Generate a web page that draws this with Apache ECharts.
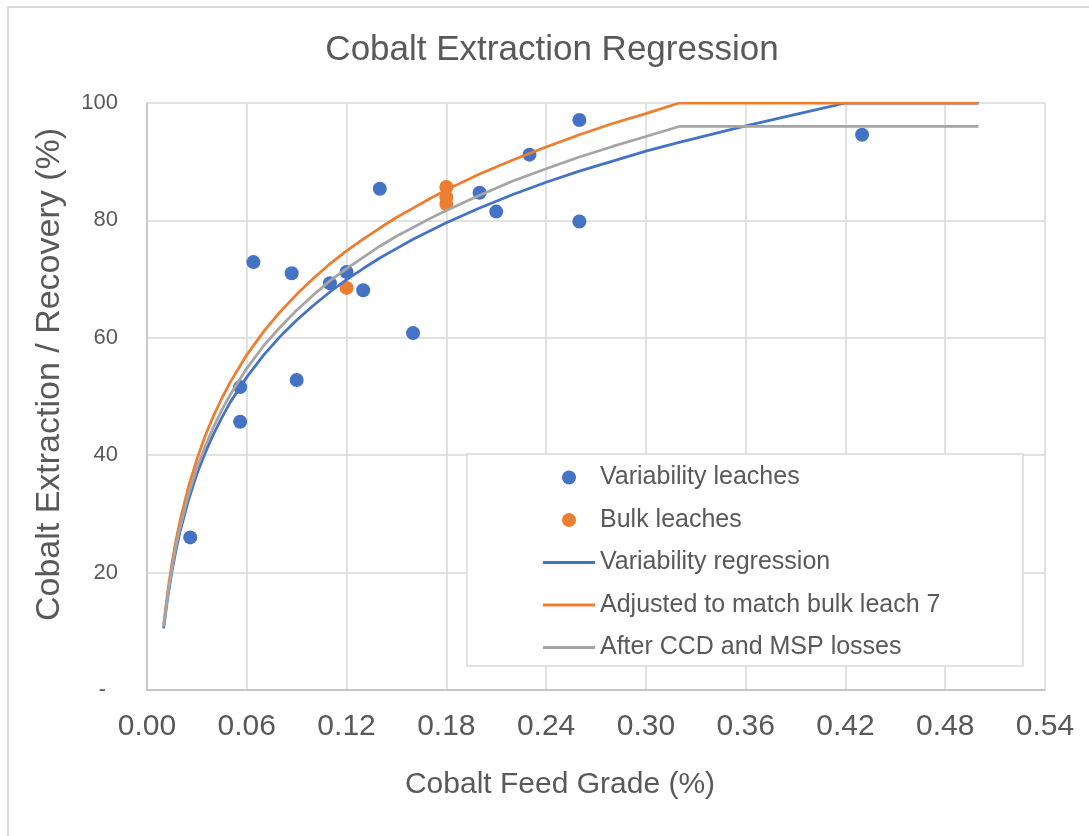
<!DOCTYPE html>
<html>
<head>
<meta charset="utf-8">
<script src="https://cdn.jsdelivr.net/npm/echarts@6/dist/echarts.min.js"></script>
<style>
html,body{margin:0;padding:0;background:#fff;}
#chart{width:1089px;height:836px;}
</style>
</head>
<body>
<div id="chart"></div>
<script>
// Scatter data
var variabilityX = [0.026, 0.056, 0.056, 0.064, 0.087, 0.090, 0.110, 0.120, 0.130, 0.140, 0.160, 0.200, 0.210, 0.230, 0.260, 0.260, 0.430];
var variabilityY = [26.0, 45.7, 51.6, 72.9, 71.0, 52.8, 69.3, 71.2, 68.1, 85.4, 60.8, 84.7, 81.5, 91.2, 97.1, 79.8, 94.6];
var bulkX = [0.120, 0.180, 0.180, 0.180];
var bulkY = [68.5, 85.7, 84.0, 82.8];

// Curve points
var curveX = [0.010, 0.0125, 0.015, 0.0175, 0.020, 0.025, 0.030, 0.035, 0.040, 0.045, 0.050, 0.060, 0.070, 0.080, 0.090, 0.100, 0.110, 0.120, 0.130, 0.140, 0.150, 0.160, 0.170, 0.180, 0.200, 0.220, 0.240, 0.260, 0.280, 0.300, 0.320, 0.360, 0.400, 0.420, 0.500];
var regressionY = [10.5, 15.8, 20.2, 23.9, 27.1, 32.4, 36.8, 40.4, 43.6, 46.4, 49.0, 53.3, 57.0, 60.2, 63.0, 65.5, 67.8, 69.9, 71.8, 73.6, 75.2, 76.8, 78.2, 79.6, 82.1, 84.4, 86.5, 88.4, 90.1, 91.8, 93.3, 96.1, 98.7, 100, 100];
var adjustedY = [11.2, 16.9, 21.6, 25.6, 29.0, 34.7, 39.3, 43.3, 46.7, 49.7, 52.4, 57.1, 61.0, 64.4, 67.4, 70.1, 72.6, 74.8, 76.8, 78.7, 80.5, 82.1, 83.7, 85.2, 87.9, 90.3, 92.5, 94.6, 96.5, 98.2, 100, 100, 100, 100, 100];
var afterLossY = [10.8, 16.2, 20.7, 24.6, 27.8, 33.3, 37.8, 41.5, 44.8, 47.7, 50.3, 54.8, 58.6, 61.8, 64.7, 67.3, 69.7, 71.8, 73.7, 75.6, 77.3, 78.8, 80.3, 81.7, 84.3, 86.7, 88.8, 90.8, 92.6, 94.3, 96.0, 96.0, 96.0, 96.0, 96.0];

var xTicks = ['0.00','0.06','0.12','0.18','0.24','0.30','0.36','0.42','0.48','0.54'];
var yTicks = ['-','20','40','60','80','100'];

function pairs(xs, ys){ return xs.map(function(x,i){ return [x, ys[i]]; }); }

var FONT = 'Liberation Sans, Arial, sans-serif';
var TXT = '#595959';
var LINE_ICON = 'path://M0,0 L52,0 L52,3 L0,3 Z';

var chart = echarts.init(document.getElementById('chart'));
chart.setOption({
  animation: false,
  backgroundColor: '#fff',
  title: {
    text: 'Cobalt Extraction Regression',
    left: 552, textAlign: 'center', top: 33, padding: 0,
    textStyle: { fontFamily: FONT, fontSize: 35, fontWeight: 'normal', color: TXT }
  },
  grid: { left: 147, right: 44, top: 103, bottom: 146, containLabel: false },
  xAxis: {
    type: 'value', min: 0, max: 0.54, interval: 0.06,
    name: 'Cobalt Feed Grade (%)', nameLocation: 'middle', nameGap: 80,
    nameTextStyle: { fontFamily: FONT, fontSize: 30, color: TXT, padding: [0, 72, 0, 0] },
    axisLine: { show: true, lineStyle: { color: '#bfbfbf', width: 1.5 } },
    axisTick: { show: false },
    splitLine: { show: true, lineStyle: { color: '#d9d9d9', width: 1.5 } },
    axisLabel: {
      fontFamily: FONT, fontSize: 30, color: TXT, margin: 22,
      formatter: function(v){ var i = Math.round(v/0.06); return xTicks[i] !== undefined ? xTicks[i] : v.toFixed(2); }
    }
  },
  yAxis: {
    type: 'value', min: 0, max: 100, interval: 20,
    name: 'Cobalt Extraction / Recovery (%)', nameLocation: 'middle', nameGap: 80,
    nameTextStyle: { fontFamily: FONT, fontSize: 34, color: TXT, padding: [0, 0, 0, 44] },
    axisLine: { show: true, lineStyle: { color: '#bfbfbf', width: 1.5 } },
    axisTick: { show: false },
    splitLine: { show: true, lineStyle: { color: '#d9d9d9', width: 1.5 } },
    axisLabel: {
      fontFamily: FONT, fontSize: 22, color: TXT, margin: 29,
      formatter: function(v){ var i = Math.round(v/20); return i === 0 ? '{z|' + yTicks[0] + '}' : yTicks[i]; },
      rich: { z: { fontFamily: FONT, fontSize: 22, color: TXT, padding: [0, 12, 0, 0] } }
    }
  },
  legend: {
    orient: 'vertical', left: 543, top: 465, padding: 0,
    itemWidth: 52, itemHeight: 14, itemGap: 17.5, z: 20,
    textStyle: { fontFamily: FONT, fontSize: 25, color: TXT, lineHeight: 25 },
    data: [
      { name: 'Variability leaches', icon: 'circle', itemStyle: { color: '#4472C4', opacity: 1 } },
      { name: 'Bulk leaches', icon: 'circle', itemStyle: { color: '#ED7D31', opacity: 1 } },
      { name: 'Variability regression', icon: LINE_ICON, itemStyle: { color: '#4472C4' } },
      { name: 'Adjusted to match bulk leach 7', icon: LINE_ICON, itemStyle: { color: '#ED7D31' } },
      { name: 'After CCD and MSP losses', icon: LINE_ICON, itemStyle: { color: '#A5A5A5' } }
    ]
  },
  graphic: [
    { type: 'rect', z: 1, silent: true, shape: { x: 8, y: 7, width: 1200, height: 1000 },
      style: { fill: 'none', stroke: '#d9d9d9', lineWidth: 2 } },
    { type: 'rect', z: 10, silent: true, shape: { x: 467, y: 454, width: 556, height: 212 },
      style: { fill: '#ffffff', stroke: '#d9d9d9', lineWidth: 1.5 } }
  ],
  series: [
    { name: 'Variability leaches', type: 'scatter', symbol: 'circle', symbolSize: 14,
      itemStyle: { color: '#4472C4', opacity: 1 }, data: pairs(variabilityX, variabilityY) },
    { name: 'Bulk leaches', type: 'scatter', symbol: 'circle', symbolSize: 14,
      itemStyle: { color: '#ED7D31', opacity: 1 }, data: pairs(bulkX, bulkY) },
    { name: 'Variability regression', type: 'line', showSymbol: false, symbol: 'none', smooth: false,
      lineStyle: { color: '#4472C4', width: 2.75 }, itemStyle: { color: '#4472C4' },
      data: pairs(curveX, regressionY) },
    { name: 'Adjusted to match bulk leach 7', type: 'line', showSymbol: false, symbol: 'none', smooth: false,
      lineStyle: { color: '#ED7D31', width: 2.75 }, itemStyle: { color: '#ED7D31' },
      data: pairs(curveX, adjustedY) },
    { name: 'After CCD and MSP losses', type: 'line', showSymbol: false, symbol: 'none', smooth: false,
      lineStyle: { color: '#A5A5A5', width: 2.75 }, itemStyle: { color: '#A5A5A5' },
      data: pairs(curveX, afterLossY) }
  ]
});
</script>
</body>
</html>
